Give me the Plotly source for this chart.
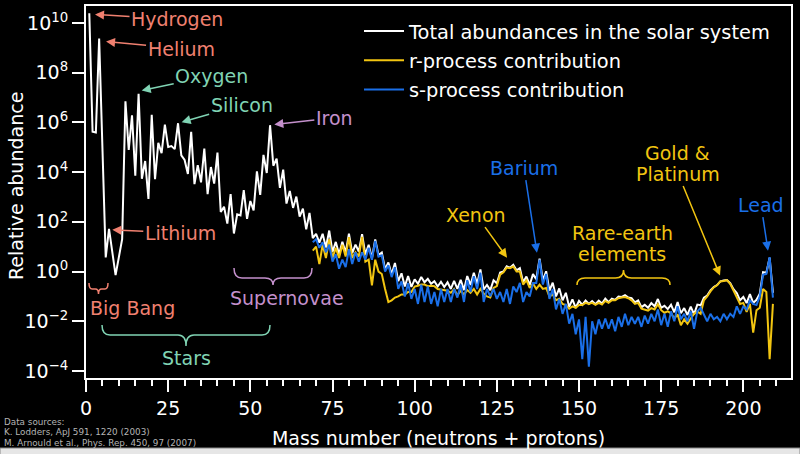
import plotly.graph_objects as go

# ---------------- data ----------------
mass_total = [1, 2, 3, 4, 6, 7] + list(range(9, 210))
total_abundance = [
    2.43e10, 4.2e5, 3.9e5, 2.34e9, 3.7, 52,                                   # 1-7
    0.72, 4.0, 20, 7.0e6, 7.8e4, 1.94e6, 7.1e3, 1.41e7, 5.4e3, 2.8e4,         # 9-18
    841, 2.0e6, 5.2e3, 1.5e5, 5.75e4, 8.06e5, 1.02e5, 1.12e5, 8.4e4, 9.22e5,  # 19-28
    4.68e4, 3.09e4, 8.37e3, 4.2e5, 3.3e3, 1.9e4, 3.9e3, 8.8e4, 1.3e3, 1.6e4,  # 29-38
    3.45e3, 6.1e4, 250, 405, 85, 1.3e3, 34, 200, 180, 1.9e3,                  # 39-48
    131, 690, 288, 1.08e4, 1.22e3, 4.9e4, 9.17e3, 7.7e5, 1.8e4, 3.5e4,        # 49-58
    2.32e3, 1.25e4, 545, 1.74e3, 363, 1.04e3, 164, 340, 50, 230,              # 59-68
    22, 33, 14.5, 33, 9.3, 44.6, 6.1, 15.6, 5.0, 15.8,                        # 69-78
    5.8, 33.8, 5.5, 12.2, 6.4, 31.8, 4.8, 11.9, 3.4, 19.5,                    # 79-88
    4.6, 5.8, 1.26, 2.33, 0.755, 2.21, 0.41, 0.85, 0.25, 0.66,                # 89-98
    0.24, 0.49, 0.32, 0.61, 0.37, 0.51, 0.32, 0.41, 0.25, 0.39,               # 99-108
    0.24, 0.37, 0.20, 0.42, 0.20, 0.47, 0.18, 0.66, 0.29, 0.90,               # 109-118
    0.32, 1.22, 0.19, 0.29, 0.18, 0.45, 0.34, 0.92, 1.0, 1.63,                # 119-128
    1.41, 1.86, 1.13, 1.37, 0.37, 0.63, 0.29, 0.79, 0.49, 3.3,                # 129-138
    0.44, 1.03, 0.17, 0.36, 0.10, 0.21, 0.07, 0.14, 0.038, 0.076,             # 139-148
    0.035, 0.066, 0.046, 0.068, 0.05, 0.065, 0.049, 0.068, 0.052, 0.082,      # 149-158
    0.059, 0.082, 0.073, 0.099, 0.096, 0.113, 0.09, 0.085, 0.058, 0.069,      # 159-168
    0.037, 0.046, 0.035, 0.054, 0.040, 0.079, 0.035, 0.042, 0.031, 0.046,     # 169-178
    0.023, 0.059, 0.021, 0.034, 0.018, 0.039, 0.019, 0.047, 0.044, 0.089,     # 179-188
    0.108, 0.177, 0.24, 0.286, 0.405, 0.44, 0.46, 0.34, 0.196, 0.138,         # 189-198
    0.07, 0.095, 0.054, 0.123, 0.055, 0.073, 0.13, 0.95, 0.9, 3.6,            # 199-208
    0.139,                                                                    # 209
]

mass_rs = list(range(69, 210))
r_process = [
    7, 10, 2, 12, 3.5, 20, 3.5, 9, 3.5, 12,                                   # 69-78
    4, 24, 3.5, 6, 4, 25, 2.5, 3, 0.28, 3,                                    # 79-88
    1, 0.8, 0.2, 0.06, 0.07, 0.09, 0.1, 0.12, 0.12, 0.15,                     # 89-98
    0.15, 0.25, 0.27, 0.3, 0.3, 0.26, 0.27, 0.26, 0.2, 0.19,                  # 99-108
    0.18, 0.17, 0.14, 0.2, 0.11, 0.17, 0.12, 0.18, 0.14, 0.2,                 # 109-118
    0.12, 0.2, 0.13, 0.1, 0.09, 0.22, 0.26, 0.75, 0.94, 1.45,                 # 119-128
    1.36, 1.6, 1.0, 1.0, 0.3, 0.45, 0.22, 0.33, 0.2, 0.3,                     # 129-138
    0.2, 0.22, 0.1, 0.12, 0.07, 0.08, 0.05, 0.045, 0.032, 0.04,               # 139-148
    0.035, 0.045, 0.045, 0.055, 0.05, 0.055, 0.046, 0.055, 0.047, 0.066,      # 149-158
    0.055, 0.07, 0.07, 0.085, 0.09, 0.095, 0.085, 0.07, 0.05, 0.055,          # 159-168
    0.032, 0.03, 0.027, 0.034, 0.03, 0.049, 0.028, 0.022, 0.025, 0.021,       # 169-178
    0.013, 0.019, 0.007, 0.012, 0.008, 0.013, 0.02, 0.025, 0.02, 0.07,        # 179-188
    0.1, 0.16, 0.23, 0.28, 0.40, 0.42, 0.45, 0.32, 0.18, 0.1,                 # 189-198
    0.05, 0.055, 0.024, 0.05, 0.0035, 0.028, 0.035, 0.2, 0.15, 0.0003,        # 199-208
    0.05,                                                                     # 209
]
s_process = [
    15, 20, 9, 15, 6, 12, 2.5, 5, 1.3, 3,                                     # 69-78
    1.5, 8, 2, 6, 2.5, 6, 3, 9, 3, 17,                                        # 79-88
    4, 4.5, 1.0, 1.8, 0.6, 1.5, 0.2, 0.4, 0.1, 0.35,                          # 89-98
    0.08, 0.2, 0.05, 0.3, 0.06, 0.25, 0.05, 0.15, 0.04, 0.2,                  # 99-108
    0.06, 0.2, 0.06, 0.2, 0.09, 0.3, 0.06, 0.45, 0.15, 0.65,                  # 109-118
    0.2, 0.9, 0.06, 0.2, 0.1, 0.2, 0.08, 0.15, 0.06, 0.2,                     # 119-128
    0.05, 0.25, 0.15, 0.35, 0.06, 0.15, 0.1, 0.35, 0.35, 3.0,                 # 129-138
    0.3, 0.8, 0.08, 0.2, 0.03, 0.08, 0.02, 0.05, 0.008, 0.02,                 # 139-148
    0.003, 0.012, 0.0003, 0.015, 0.00015, 0.01, 0.003, 0.012, 0.005, 0.013,   # 149-158
    0.005, 0.012, 0.004, 0.015, 0.006, 0.02, 0.007, 0.015, 0.008, 0.015,      # 159-168
    0.006, 0.017, 0.008, 0.02, 0.01, 0.03, 0.007, 0.02, 0.006, 0.025,         # 169-178
    0.01, 0.04, 0.012, 0.02, 0.01, 0.025, 0.005, 0.025, 0.035, 0.02,          # 179-188
    0.01, 0.02, 0.012, 0.015, 0.01, 0.02, 0.012, 0.02, 0.015, 0.04,           # 189-198
    0.02, 0.04, 0.03, 0.07, 0.05, 0.045, 0.1, 0.75, 0.8, 3.8,                 # 199-208
    0.09,                                                                     # 209
]

x_tick_vals = [0, 25, 50, 75, 100, 125, 150, 175, 200]
x_tick_text = ["0", "25", "50", "75", "100", "125", "150", "175", "200"]
y_tick_vals = [1e-4, 1e-2, 1e0, 1e2, 1e4, 1e6, 1e8, 1e10]
y_tick_text = ["10<sup>\u22124</sup>", "10<sup>\u22122</sup>", "10<sup>0</sup>", "10<sup>2</sup>",
               "10<sup>4</sup>", "10<sup>6</sup>", "10<sup>8</sup>", "10<sup>10</sup>"]

# ---------------- styling ----------------
W, H = 800, 454
ML, MR, MT, MB = 86, 9, 6, 76
PW, PH = W - ML - MR, H - MT - MB
FONT = "DejaVu Sans"
WHITE = "#ffffff"
YELLOW = "#f2c511"
BLUE = "#1a6fe8"
SALMON = "#f08070"
TEAL = "#80d4b4"
PURPLE = "#c490cc"
GREY = "#b4b4b4"


def px(xp):
    return (xp - ML) / PW


def py(yp):
    return (H - MB - yp) / PH


fig = go.Figure()
fig.add_trace(go.Scatter(x=mass_total, y=total_abundance, mode="lines",
                         line=dict(color=WHITE, width=2),
                         name="Total abundances in the solar system",
                         legendgroup="a"))
fig.add_trace(go.Scatter(x=mass_rs, y=r_process, mode="lines",
                         line=dict(color=YELLOW, width=2),
                         name="r-process contribution", legendgroup="b"))
fig.add_trace(go.Scatter(x=mass_rs, y=s_process, mode="lines",
                         line=dict(color=BLUE, width=2),
                         name="s-process contribution", legendgroup="c"))

fig.update_layout(
    width=W, height=H,
    paper_bgcolor="black", plot_bgcolor="black",
    margin=dict(l=ML, r=MR, t=MT, b=MB, autoexpand=False),
    font=dict(family=FONT, color=WHITE, size=19),
    showlegend=True,
    legend=dict(x=px(359), y=py(12), xanchor="left", yanchor="top",
                bgcolor="rgba(0,0,0,0)", font=dict(size=19.4, color=WHITE),
                itemwidth=40, tracegroupgap=1),
)
fig.update_xaxes(
    range=[0, 214.5], tickmode="array", tickvals=x_tick_vals, ticktext=x_tick_text,
    ticks="outside", ticklen=12, tickwidth=2, tickcolor=WHITE,
    showline=True, linecolor=WHITE, linewidth=2, mirror=True,
    showgrid=False, zeroline=False, automargin=False,
    minor=dict(dtick=5, tick0=0, ticks="outside", ticklen=6, tickwidth=2,
               tickcolor=WHITE, showgrid=False),
    tickfont=dict(size=19, color=WHITE),
    title=dict(text="Mass number (neutrons + protons)", standoff=14,
               font=dict(size=19, color=WHITE)),
)
fig.update_yaxes(
    type="log", range=[-4.28, 10.68], tickmode="array",
    tickvals=y_tick_vals, ticktext=y_tick_text,
    ticks="outside", ticklen=12, tickwidth=2, tickcolor=WHITE,
    showline=True, linecolor=WHITE, linewidth=2, mirror=True,
    showgrid=False, zeroline=False, automargin=False,
    tickfont=dict(size=19, color=WHITE),
)


def arrow_note(text, tip_a, tip_log, ax, ay, color):
    fig.add_annotation(x=tip_a, y=tip_log, xref="x", yref="y", text=text,
                       showarrow=True, ax=ax, ay=ay, arrowcolor=color,
                       arrowhead=2, arrowsize=1.2, arrowwidth=1.5,
                       font=dict(family=FONT, size=19, color=color))


def text_note(text, xp, yp, color, size=19, anchor="center", angle=0):
    fig.add_annotation(x=px(xp), y=py(yp), xref="paper", yref="paper", text=text,
                       showarrow=False, xanchor=anchor, yanchor="middle",
                       textangle=angle,
                       font=dict(family=FONT, size=size, color=color))


# y-axis title
text_note("Relative abundance", 16, 186, WHITE, angle=-90)

arrow_note("Hydrogen", 2.74, 10.34, 82, 5, SALMON)
arrow_note("Helium", 6.1, 9.25, 75, 7, SALMON)
arrow_note("Lithium", 8.0, 1.68, 68, 3, SALMON)
arrow_note("Oxygen", 16.95, 7.28, 70, -15, TEAL)
arrow_note("Silicon", 29.1, 6.01, 60, -17, TEAL)
arrow_note("Iron", 57.3, 5.91, 60, -7, PURPLE)
arrow_note("Xenon", 128.1, 0.56, -31, -43, YELLOW)
arrow_note("Barium", 137.2, 0.76, -13, -85, BLUE)
arrow_note("Platinum", 192.9, -0.16, -42, -102, YELLOW)
arrow_note("Lead", 207.5, 0.84, -7, -46, BLUE)

text_note("Gold &amp;", 677, 153, YELLOW)
text_note("Rare-earth", 622, 233, YELLOW)
text_note("elements", 622, 254, YELLOW)
text_note("Big Bang", 132, 308, SALMON)
text_note("Stars", 186, 358, TEAL)
text_note("Supernovae", 287, 298, PURPLE)

text_note("Data sources:", 2, 421.5, GREY, size=8.8, anchor="left")
text_note("K. Lodders, ApJ 591, 1220 (2003)", 2, 431.5, GREY, size=8.8, anchor="left")
text_note("M. Arnould et al., Phys. Rep. 450, 97 (2007)", 2, 442.5, GREY, size=8.8, anchor="left")


def brace(x1, x2, y_tip, y_line, y_point, color):
    xm = (x1 + x2) / 2
    r = min(8, (x2 - x1) / 6)
    pts = [
        f"M {px(x1)},{py(y_tip)}",
        f"Q {px(x1)},{py(y_line)} {px(x1 + r)},{py(y_line)}",
        f"L {px(xm - r)},{py(y_line)}",
        f"Q {px(xm)},{py(y_line)} {px(xm)},{py(y_point)}",
        f"Q {px(xm)},{py(y_line)} {px(xm + r)},{py(y_line)}",
        f"L {px(x2 - r)},{py(y_line)}",
        f"Q {px(x2)},{py(y_line)} {px(x2)},{py(y_tip)}",
    ]
    fig.add_shape(type="path", path=" ".join(pts), xref="paper", yref="paper",
                  line=dict(color=color, width=1.5))


brace(89, 108, 283, 289, 294, SALMON)
brace(102, 270, 325, 335, 346, TEAL)
brace(234, 312, 268, 278, 285, PURPLE)
brace(577, 670, 285, 278, 270, YELLOW)

# light strip along the bottom edge of the picture
fig.add_shape(type="rect", xref="paper", yref="paper",
              x0=px(0), x1=px(W), y0=py(H + 2), y1=py(448),
              fillcolor="#e6e6e6", line=dict(color="#888888", width=1))

# the page body normally has an 8px margin; remove it so the figure fills the window
fig.write_html("out.html", config={"displayModeBar": False},
               post_script="document.body.style.margin='0';document.body.style.background='black';")
